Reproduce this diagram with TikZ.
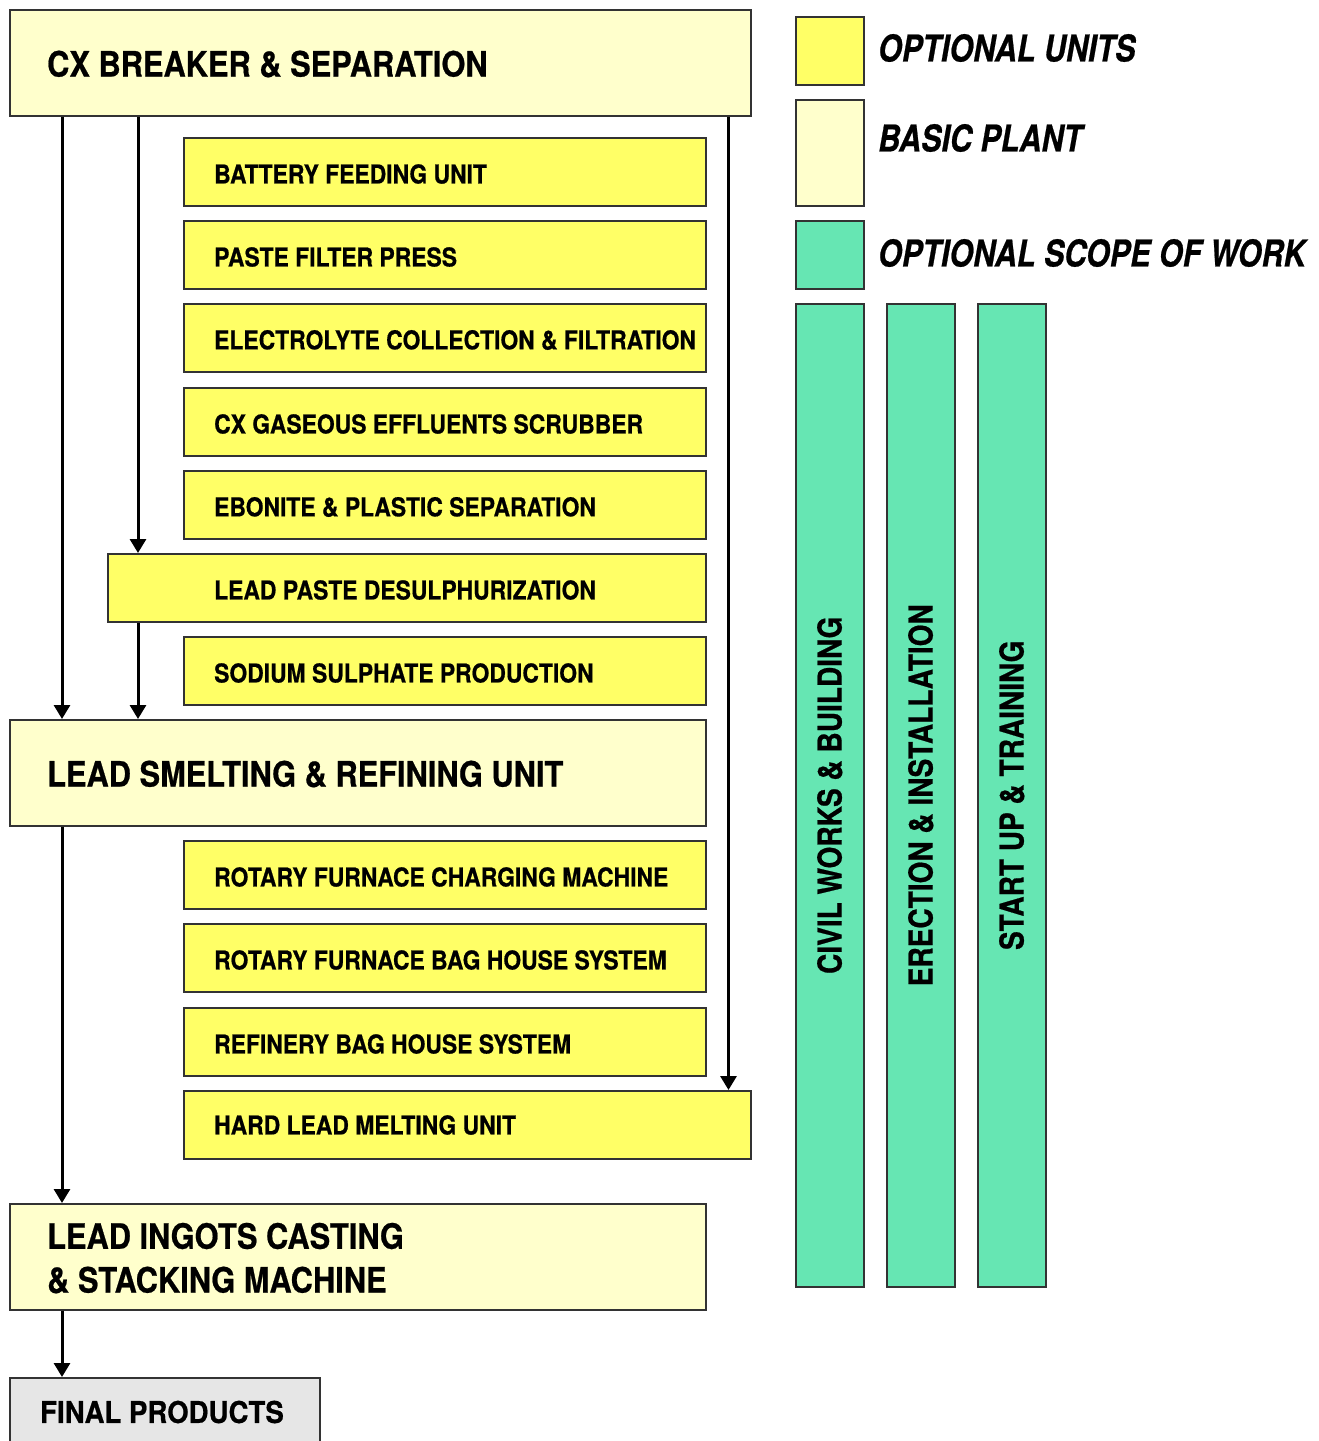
\documentclass[tikz,border=0pt]{standalone}
\usepackage{fontspec}
\setmainfont{TeX Gyre Heros}[FakeStretch=0.88]
\newfontfamily\fsm{TeX Gyre Heros}[FakeStretch=0.88,FakeBold=0.6]
\newfontfamily\fbig{TeX Gyre Heros}[FakeStretch=0.88,FakeBold=0.6]
\newfontfamily\fleg{TeX Gyre Heros}[FakeStretch=0.825,FakeBold=0.6]
\newfontfamily\fbar{TeX Gyre Heros}[FakeStretch=0.85,FakeBold=0.6]
\newfontfamily\ffin{TeX Gyre Heros}[FakeStretch=0.92,FakeBold=0.6]
\usetikzlibrary{arrows.meta}
\definecolor{basic}{HTML}{FFFFCC}
\definecolor{opt}{HTML}{FFFF66}
\definecolor{scope}{HTML}{66E6B3}
\definecolor{fin}{HTML}{E6E6E6}
\definecolor{edge}{HTML}{333333}
\begin{document}
\begin{tikzpicture}[x=1pt,y=-1pt,
  box/.style={draw=edge,line width=1.5pt,rectangle,inner sep=0pt,anchor=north west},
  basicbox/.style={box,fill=basic,minimum width=#1,minimum height=106pt},
  optbox/.style={box,fill=opt,minimum width=522pt,minimum height=68pt},
  bigtxt/.style={anchor=west,inner sep=0pt,font=\fbig\fontsize{35}{44}\selectfont\bfseries},
  smtxt/.style={anchor=west,inner sep=0pt,font=\fsm\fontsize{26}{30}\selectfont\bfseries},
  legtxt/.style={anchor=west,inner sep=0pt,font=\fleg\fontsize{37}{44}\selectfont\bfseries\itshape},
  bartxt/.style={inner sep=0pt,rotate=90,font=\fbar\fontsize{33}{40}\selectfont\bfseries},
  arr/.style={line width=3pt,-{Triangle[width=16pt,length=14pt]}}]
\useasboundingbox (0,0) rectangle (1318,1441);
% main boxes
\node[basicbox=741pt] (cx) at (9,9) {};
\node[bigtxt] (cxt) at (47,64) {CX BREAKER \& SEPARATION};
\node[optbox] (bfu) at (183,137) {};
\node[smtxt] at (214,174) {BATTERY FEEDING UNIT};
\node[optbox] (pfp) at (183,220) {};
\node[smtxt] at (214,257) {PASTE FILTER PRESS};
\node[optbox] (ecf) at (183,303) {};
\node[smtxt] at (214,340) {ELECTROLYTE COLLECTION \& FILTRATION};
\node[optbox] (ges) at (183,387) {};
\node[smtxt] at (214,424) {CX GASEOUS EFFLUENTS SCRUBBER};
\node[optbox] (eps) at (183,470) {};
\node[smtxt] at (214,507) {EBONITE \& PLASTIC SEPARATION};
\node[box,fill=opt,minimum width=598pt,minimum height=68pt] (des) at (107,553) {};
\node[smtxt] at (214,590) {LEAD PASTE DESULPHURIZATION};
\node[optbox] (ssp) at (183,636) {};
\node[smtxt] at (214,673) {SODIUM SULPHATE PRODUCTION};
\node[basicbox=696pt] (sm) at (9,719) {};
\node[bigtxt] at (47,774) {LEAD SMELTING \& REFINING UNIT};
\node[optbox] (rfc) at (183,840) {};
\node[smtxt] at (214,877) {ROTARY FURNACE CHARGING MACHINE};
\node[optbox] (rfb) at (183,923) {};
\node[smtxt] at (214,960) {ROTARY FURNACE BAG HOUSE SYSTEM};
\node[optbox] (rbh) at (183,1007) {};
\node[smtxt] at (214,1044) {REFINERY BAG HOUSE SYSTEM};
\node[box,fill=opt,minimum width=567pt,minimum height=68pt] (hl) at (183,1090) {};
\node[smtxt] at (214,1125) {HARD LEAD MELTING UNIT};
\node[basicbox=696pt] (ing) at (9,1203) {};
\node[bigtxt] at (47,1236) {LEAD INGOTS CASTING};
\node[bigtxt] at (47,1280) {\& STACKING MACHINE};
\node[box,fill=fin,minimum width=310pt,minimum height=90pt] (fp) at (9,1377) {};
\node[anchor=west,inner sep=0pt,font=\ffin\fontsize{30}{36}\selectfont\bfseries] at (40,1412) {FINAL PRODUCTS};
% arrows
\draw[arr] ([xshift=53pt]cx.south west) -- ([xshift=53pt]sm.north west);
\draw[arr] ([xshift=129pt]cx.south west) -- ([xshift=31pt]des.north west);
\draw[arr] ([xshift=31pt]des.south west) -- ([xshift=129pt]sm.north west);
\draw[arr] ([xshift=-23pt]cx.south east) -- ([xshift=-23pt]hl.north east);
\draw[arr] ([xshift=53pt]sm.south west) -- ([xshift=53pt]ing.north west);
\draw[arr] ([xshift=53pt]ing.south west) -- ([xshift=53pt]fp.north west);
% legend
\node[box,fill=opt,minimum width=68pt,minimum height=68pt] (l1) at (795,16) {};
\node[legtxt] at (878,48) {OPTIONAL UNITS};
\node[box,fill=basic,minimum width=68pt,minimum height=106pt] (l2) at (795,99) {};
\node[legtxt] at (878,138) {BASIC PLANT};
\node[box,fill=scope,minimum width=68pt,minimum height=68pt] (l3) at (795,220) {};
\node[legtxt] at (878,253) {OPTIONAL SCOPE OF WORK};
% bars
\node[box,fill=scope,minimum width=68pt,minimum height=983pt] (b1) at (795,303) {};
\node[box,fill=scope,minimum width=68pt,minimum height=983pt] (b2) at (886,303) {};
\node[box,fill=scope,minimum width=68pt,minimum height=983pt] (b3) at (977,303) {};
\node[bartxt] at (b1.center) {CIVIL WORKS \& BUILDING};
\node[bartxt] at (b2.center) {ERECTION \& INSTALLATION};
\node[bartxt] at (b3.center) {START UP \& TRAINING};
\end{tikzpicture}
\end{document}
